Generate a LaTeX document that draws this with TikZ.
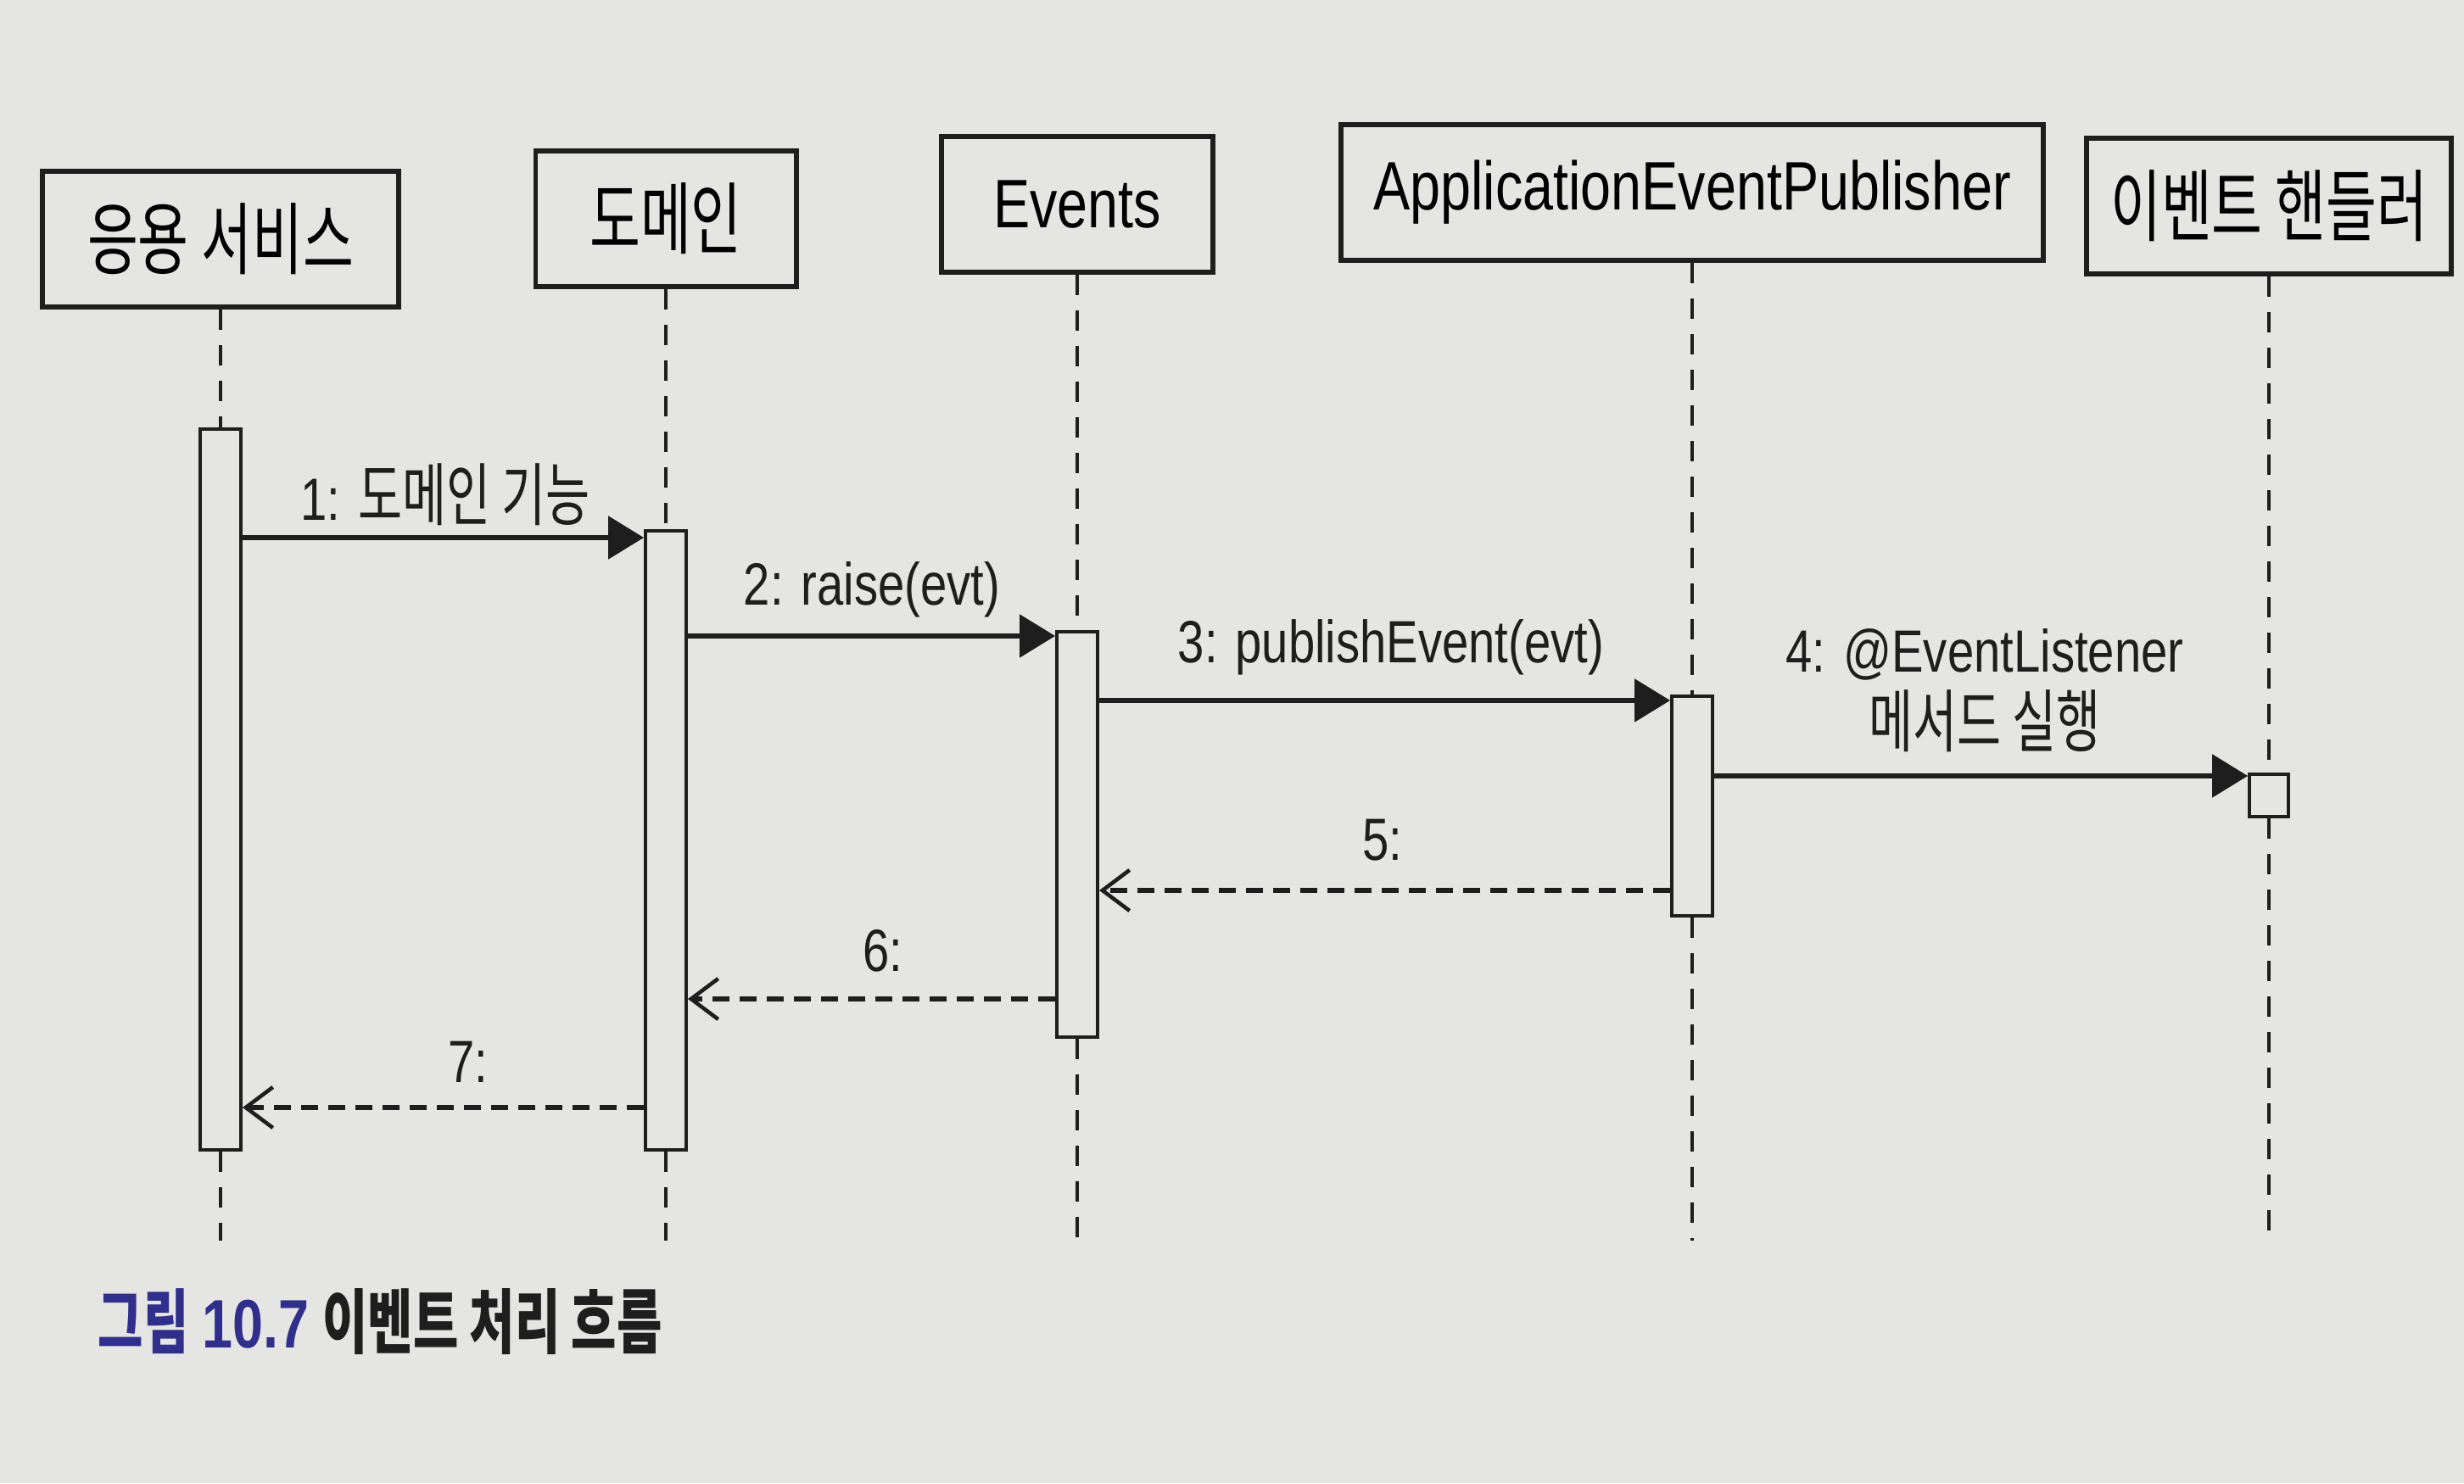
\documentclass[tikz,border=0pt]{standalone}
\usepackage{fontspec}
\setmainfont[FakeStretch=0.8]{Liberation Sans}
\newfontfamily\kr[FakeStretch=0.7, Scale=1.15]{Noto Sans CJK KR}
\usepackage{tikz}
\usetikzlibrary{arrows.meta, positioning}

\definecolor{paper}{RGB}{229,229,227}
\definecolor{ink}{RGB}{30,30,30}
\definecolor{capblue}{RGB}{48,48,140}

\tikzset{
    obj/.style={draw=ink, line width=1.7pt, fill=paper, minimum height=1.6cm, inner sep=0pt, font=\fontsize{23}{27}\selectfont},
    bar/.style={draw=ink, line width=1.1pt, fill=paper, minimum width=0.48cm, inner sep=0pt},
    life/.style={draw=ink, line width=0.9pt, dash pattern=on 0.24cm off 0.18cm},
    call/.style={draw=ink, line width=1.6pt, -{Triangle[length=0.42cm, width=0.5cm]}},
    reply/.style={draw=ink, line width=1.6pt, dash pattern=on 0.2cm off 0.12cm, -{Straight Barb[length=0.32cm, width=0.48cm, line width=1.3pt]}},
    msg/.style={text=ink, font=\fontsize{20}{25}\selectfont, align=center}
}

\begin{document}
\begin{tikzpicture}
        \fill[paper] (0,0) rectangle (29.05,17.49);
        \useasboundingbox (0,0) rectangle (29.05,17.49);
        % オブジェクト
        \node[obj, minimum width=4.2cm] (svc) at (2.6,14.67) {\kr 응용 서비스};
        \node[obj, minimum width=3.07cm] (dom) at (7.85,14.91) {\kr 도메인};
        \node[obj, minimum width=3.2cm] (evt) at (12.7,15.08) {Events};
        \node[obj, minimum width=8.28cm] (pub) at (19.95,15.22) {ApplicationEventPublisher};
        \node[obj, minimum width=4.3cm] (hdl) at (26.75,15.06) {\kr 이벤트 핸들러};
        % 活性区間
        \node[bar, minimum height=8.5cm] (b1) at (2.6,8.18) {};
        \node[bar, minimum height=7.3cm] (b2) at (7.85,7.58) {};
        \node[bar, minimum height=4.78cm] (b3) at (12.7,7.65) {};
        \node[bar, minimum height=2.59cm] (b4) at (19.95,7.985) {};
        \node[bar, minimum height=0.5cm, minimum width=0.46cm] (b5) at (26.75,8.11) {};
        \coordinate (bottom) at (0,2.86);
        % ライフライン
        \draw[life] (svc.south) -- (b1.north);
        \draw[life] (b1.south) -- (b1.south |- bottom);
        \draw[life] (dom.south) -- (b2.north);
        \draw[life] (b2.south) -- (b2.south |- bottom);
        \draw[life] (evt.south) -- (b3.north);
        \draw[life] (b3.south) -- (b3.south |- bottom);
        \draw[life] (pub.south) -- (b4.north);
        \draw[life] (b4.south) -- (b4.south |- bottom);
        \draw[life] (hdl.south) -- (b5.north);
        \draw[life] (b5.south) -- (b5.south |- bottom);
        % メッセージ
        \coordinate (y1) at (0,11.15);
        \coordinate (y2) at (0,9.99);
        \coordinate (y3) at (0,9.23);
        \coordinate (y4) at (0,8.34);
        \coordinate (y5) at (0,6.99);
        \coordinate (y6) at (0,5.71);
        \coordinate (y7) at (0,4.43);
        \draw[call] (b1.east |- y1) -- (b2.west |- y1);
        \draw[call] (b2.east |- y2) -- (b3.west |- y2);
        \draw[call] (b3.east |- y3) -- (b4.west |- y3);
        \draw[call] (b4.east |- y4) -- (b5.west |- y4);
        \draw[reply] (b4.west |- y5) -- (b3.east |- y5);
        \draw[reply] (b3.west |- y6) -- (b2.east |- y6);
        \draw[reply] (b2.west |- y7) -- (b1.east |- y7);
        \node[msg] (l1) at (5.25,11.66) {1: {\kr 도메인 기능}};
        \node[msg] (l2) at (10.28,10.54) {2: raise(evt)};
        \node[msg] (l3) at (16.4,9.86) {3: publishEvent(evt)};
        \node[msg] (l4) at (23.4,9.35) {4: @EventListener\\{\kr 메서드 실행}};
        \node[msg] (l5) at (16.3,7.58) {5:};
        \node[msg] (l6) at (10.41,6.28) {6:};
        \node[msg] (l7) at (5.52,4.97) {7:};
        % キャプション
        \node[anchor=west, inner sep=0pt, text=ink, font=\fontsize{20.5}{24}\selectfont\bfseries] (cap) at (1.15,1.9)
            {\textcolor{capblue}{{\kr 그림} {\fontsize{23}{26}\selectfont 10.7}} {\kr 이벤트 처리 흐름}};
    \end{tikzpicture}
\end{document}
